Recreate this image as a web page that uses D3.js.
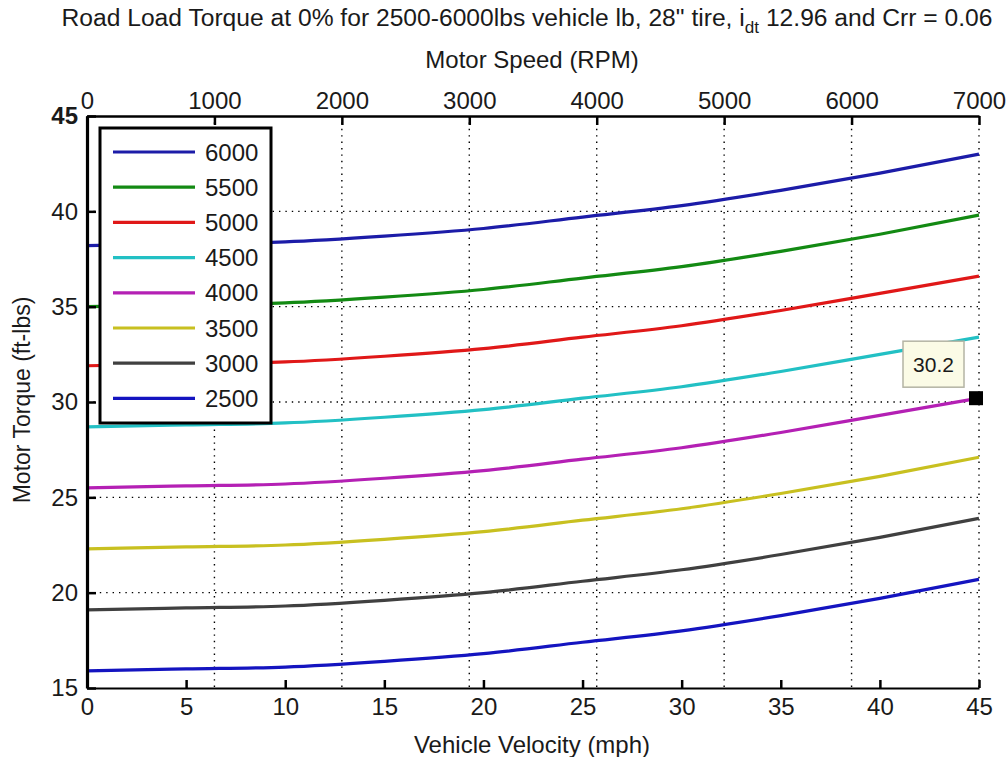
<!DOCTYPE html>
<html>
<head>
<meta charset="utf-8">
<script src="https://cdn.jsdelivr.net/npm/d3@7"></script>
<style>
  body { margin: 0; background: #fff; }
  text { font-family: "Liberation Sans", Arial, sans-serif; fill: #1a1a1a; }
</style>
</head>
<body>
<div id="chart"></div>
<script>
const width = 1008;
const height = 757;

// 数据：车速 (mph) 和各车重下的电机扭矩 (ft-lbs)
const velocity = [0, 5, 10, 15, 20, 25, 30, 35, 40, 45];
const weights = ["6000", "5500", "5000", "4500", "4000", "3500", "3000", "2500"];
const torque6000 = [38.2, 38.3, 38.4, 38.7, 39.1, 39.7, 40.3, 41.1, 42.0, 43.0];
const torque5500 = [35.0, 35.1, 35.2, 35.5, 35.9, 36.5, 37.1, 37.9, 38.8, 39.8];
const torque5000 = [31.9, 32.0, 32.1, 32.4, 32.8, 33.4, 34.0, 34.8, 35.7, 36.6];
const torque4500 = [28.7, 28.8, 28.9, 29.2, 29.6, 30.2, 30.8, 31.6, 32.5, 33.4];
const torque4000 = [25.5, 25.6, 25.7, 26.0, 26.4, 27.0, 27.6, 28.4, 29.3, 30.2];
const torque3500 = [22.3, 22.4, 22.5, 22.8, 23.2, 23.8, 24.4, 25.2, 26.1, 27.1];
const torque3000 = [19.1, 19.2, 19.3, 19.6, 20.0, 20.6, 21.2, 22.0, 22.9, 23.9];
const torque2500 = [15.9, 16.0, 16.1, 16.4, 16.8, 17.4, 18.0, 18.8, 19.7, 20.7];
const seriesColors = ["#1c1ca8", "#138a13", "#e01818", "#22c0c4", "#b420b4", "#c8c020", "#404040", "#1414c0"];
const velocityTicks = [0, 5, 10, 15, 20, 25, 30, 35, 40, 45];
const rpmTicks = [0, 1000, 2000, 3000, 4000, 5000, 6000, 7000];
const torqueTicks = [15, 20, 25, 30, 35, 40, 45];
const datatip = { velocity: 45, torque: 30.2 };

const series = [torque6000, torque5500, torque5000, torque4500, torque4000, torque3500, torque3000, torque2500]
  .map((vals, i) => ({ name: weights[i], color: seriesColors[i], values: vals.map((t, j) => ({ v: velocity[j], t })) }));

const margin = { left: 87, right: 29, top: 116, bottom: 69 };
const x = d3.scaleLinear().domain([0, 45]).range([margin.left, width - margin.right]);
const xRpm = d3.scaleLinear().domain([0, 7000]).range([margin.left, width - margin.right]);
const y = d3.scaleLinear().domain([15, 45]).range([height - margin.bottom, margin.top]);

const svg = d3.select("#chart").append("svg")
  .attr("width", width)
  .attr("height", height);

// 网格（点线）
const grid = svg.append("g").attr("stroke", "#000").attr("stroke-width", 1.4).attr("stroke-dasharray", "1.4,5");
grid.selectAll("line.h").data(torqueTicks.filter(d => d > 15 && d < 45)).enter().append("line")
  .attr("x1", x(0)).attr("x2", x(45)).attr("y1", d => y(d)).attr("y2", d => y(d));
grid.selectAll("line.v").data(rpmTicks.filter(d => d > 0)).enter().append("line")
  .attr("x1", d => xRpm(d)).attr("x2", d => xRpm(d)).attr("y1", y(45)).attr("y2", y(15));

// 曲线
const line = d3.line().x(d => x(d.v)).y(d => y(d.t)).curve(d3.curveMonotoneX);
svg.append("g").selectAll("path").data(series).enter().append("path")
  .attr("d", d => line(d.values))
  .attr("fill", "none")
  .attr("stroke", d => d.color)
  .attr("stroke-width", 3.2);

// 坐标轴
const bottomAxis = svg.append("g").attr("transform", `translate(0,${y(15)})`)
  .call(d3.axisBottom(x).tickValues(velocityTicks).tickSizeInner(-8).tickSizeOuter(0));
const topAxis = svg.append("g").attr("transform", `translate(0,${y(45)})`)
  .call(d3.axisTop(xRpm).tickValues(rpmTicks).tickFormat(d3.format("d")).tickSizeInner(-9).tickSizeOuter(0));
const leftAxis = svg.append("g").attr("transform", `translate(${x(0)},0)`)
  .call(d3.axisLeft(y).tickValues(torqueTicks).tickSizeInner(-9).tickSizeOuter(0).tickPadding(9));

[bottomAxis, topAxis, leftAxis].forEach(a => {
  a.selectAll("text").style("font-size", "24px").attr("fill", "#1a1a1a");
  a.selectAll("line").attr("stroke", "#000").attr("stroke-width", 2.5);
});
bottomAxis.select(".domain").attr("stroke", "#000").attr("stroke-width", 2.2);
topAxis.select(".domain").attr("stroke", "#000").attr("stroke-width", 2.5);
leftAxis.select(".domain").attr("stroke", "#000").attr("stroke-width", 3.2);
leftAxis.selectAll(".tick text").filter(d => d === 45).style("font-weight", "bold");
bottomAxis.selectAll(".tick text").attr("dy", "0.35em").attr("y", 19);
topAxis.selectAll(".tick text").attr("y", -7);

// 图例
const legend = svg.append("g");
legend.append("rect")
  .attr("x", 100).attr("y", 128).attr("width", 171).attr("height", 295)
  .attr("fill", "#fff").attr("stroke", "#000").attr("stroke-width", 3);
const item = legend.selectAll("g.item").data(series).enter().append("g")
  .attr("transform", (d, i) => `translate(0,${152 + i * 35.2})`);
item.append("line").attr("x1", 113).attr("x2", 195).attr("stroke", d => d.color).attr("stroke-width", 3.2);
item.append("text").attr("x", 205).attr("dy", "0.36em").style("font-size", "24px").text(d => d.name);

// 数据提示
const tipX = x(datatip.velocity), tipY = y(datatip.torque);
svg.append("rect").attr("x", tipX - 76).attr("y", tipY - 57).attr("width", 61).attr("height", 46)
  .attr("fill", "#fbfbe6").attr("stroke", "#b4b4a4").attr("stroke-width", 1.5);
svg.append("text").attr("x", tipX - 45.5).attr("y", tipY - 34).attr("dy", "0.36em")
  .attr("text-anchor", "middle").style("font-size", "21px").text(datatip.torque.toFixed(1));
svg.append("rect").attr("x", tipX - 10).attr("y", tipY - 7).attr("width", 14).attr("height", 14).attr("fill", "#000");

// 标题和轴标签
const title = svg.append("text").attr("x", 527).attr("y", 26).attr("text-anchor", "middle")
  .attr("textLength", 931).attr("lengthAdjust", "spacingAndGlyphs").style("font-size", "23px");
title.append("tspan").text("Road Load Torque at 0% for 2500-6000lbs vehicle lb, 28\" tire, i");
title.append("tspan").attr("dy", 7).style("font-size", "16px").text("dt");
title.append("tspan").attr("dy", -7).text(" 12.96 and Crr = 0.06");
svg.append("text").attr("x", 532).attr("y", 68).attr("text-anchor", "middle").style("font-size", "24px").text("Motor Speed (RPM)");
svg.append("text").attr("x", 532).attr("y", 753).attr("text-anchor", "middle").style("font-size", "24px").text("Vehicle Velocity (mph)");
svg.append("text").attr("transform", "translate(30,400) rotate(-90)").attr("text-anchor", "middle").style("font-size", "23px").text("Motor Torque (ft-lbs)");
</script>
</body>
</html>
